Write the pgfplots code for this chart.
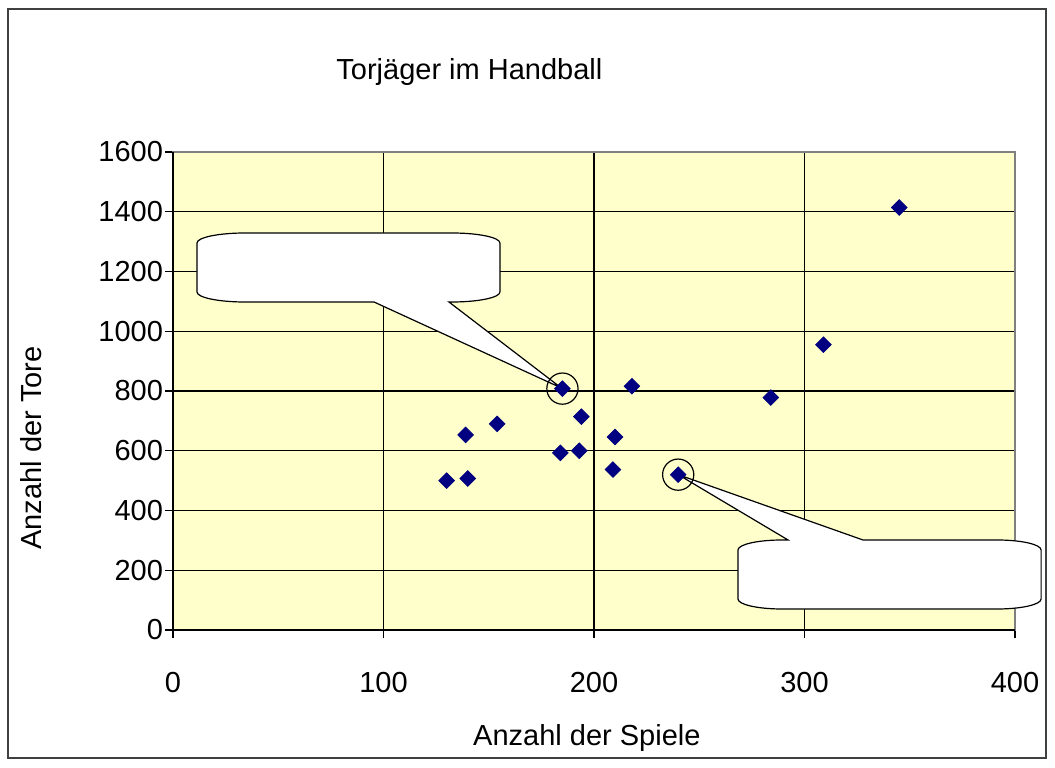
\documentclass[border=0pt]{standalone}
\usepackage{fontspec}
\setmainfont{Liberation Sans}
\usepackage{pgfplots}
\pgfplotsset{compat=1.18}
\definecolor{plotbg}{HTML}{FFFFCC}
\definecolor{navy}{HTML}{000080}
\begin{document}
\begin{tikzpicture}
\path (0,0) rectangle (527.5pt,383.5pt);
\draw[line width=1pt, black!75] (4pt,4.5pt) rectangle (523pt,379pt);
\begin{axis}[
  at={(86.5pt,68.5pt)}, anchor=south west,
  scale only axis, width=421pt, height=239pt,
  xmin=0, xmax=400, ymin=0, ymax=1600,
  xtick={0,100,200,300,400}, ytick={0,200,...,1600},
  scaled ticks=false,
  /pgf/number format/1000 sep={},
  /pgf/number format/assume math mode=true,
  ticklabel style={font=\fontsize{14.5}{17}\selectfont},
  xticklabel style={anchor=north, inner sep=0pt, yshift=-17pt},
  yticklabel style={anchor=east, inner sep=0pt, xshift=-0.8pt},
  axis background/.style={fill=plotbg},
  grid=major, major grid style={black, line width=0.55pt},
  tick align=outside, major tick length=4pt, tick pos=left,
  tick style={black, line width=0.55pt},
  axis line style={draw=gray, line width=0.6pt},
  clip=false,
  set layers,
]
\addplot[only marks, mark=square*, mark size=2.75pt,
  mark options={rotate=45, fill=navy, draw=navy}] coordinates {
  (130,500) (140,507) (139,653) (154,690) (184,593) (185,808) (193,600)
  (194,714) (209,537) (210,646) (218,816) (240,520) (284,778) (309,955) (345,1414)
};
\addplot[only marks, mark=o, mark size=7.8pt,
  mark options={line width=0.6pt, draw=black}] coordinates {(185,808) (240,520)};
\pgfplotsextra{%
\begin{pgfonlayer}{axis lines}
\draw[black, line width=0.6pt] (rel axis cs:0,1) -- (rel axis cs:0,0) -- (rel axis cs:1,0);
\end{pgfonlayer}
\begin{pgfonlayer}{pre main}
\draw[fill=white, line width=0.6pt]
  ([yshift=-5pt]axis cs:11.4,1328.9) arc[start angle=180,end angle=90,x radius=24pt,y radius=5pt]
  -- ([xshift=-24pt]axis cs:155.3,1328.9) arc[start angle=90,end angle=0,x radius=24pt,y radius=5pt]
  -- ([yshift=5pt]axis cs:155.3,1097.9) arc[start angle=0,end angle=-90,x radius=24pt,y radius=5pt]
  -- (axis cs:131.1,1097.9) -- (axis cs:184.5,810) -- (axis cs:95.5,1097.9)
  -- ([xshift=24pt]axis cs:11.4,1097.9) arc[start angle=-90,end angle=-180,x radius=24pt,y radius=5pt]
  -- cycle;
\draw[fill=white, line width=0.6pt]
  ([yshift=-5pt]axis cs:268.4,301.3) arc[start angle=180,end angle=90,x radius=22pt,y radius=5pt]
  -- (axis cs:292.2,301.3) -- (axis cs:240,520) -- (axis cs:327.8,301.3)
  -- ([xshift=-22pt]axis cs:412.4,301.3) arc[start angle=90,end angle=0,x radius=22pt,y radius=5pt]
  -- ([yshift=5pt]axis cs:412.4,70.3) arc[start angle=0,end angle=-90,x radius=22pt,y radius=5pt]
  -- ([xshift=22pt]axis cs:268.4,70.3) arc[start angle=-90,end angle=-180,x radius=22pt,y radius=5pt]
  -- cycle;
\end{pgfonlayer}}
\end{axis}
\node[anchor=base west, inner sep=0pt, font=\fontsize{14.5}{17}\selectfont] at (168pt,343.5pt) {Torjäger im Handball};
\node[anchor=base west, inner sep=0pt, font=\fontsize{14.5}{17}\selectfont] at (236.4pt,11pt) {Anzahl der Spiele};
\node[rotate=90, anchor=base west, inner sep=0pt, font=\fontsize{14.5}{17}\selectfont] at (20.8pt,108.5pt) {Anzahl der Tore};
\end{tikzpicture}
\end{document}
